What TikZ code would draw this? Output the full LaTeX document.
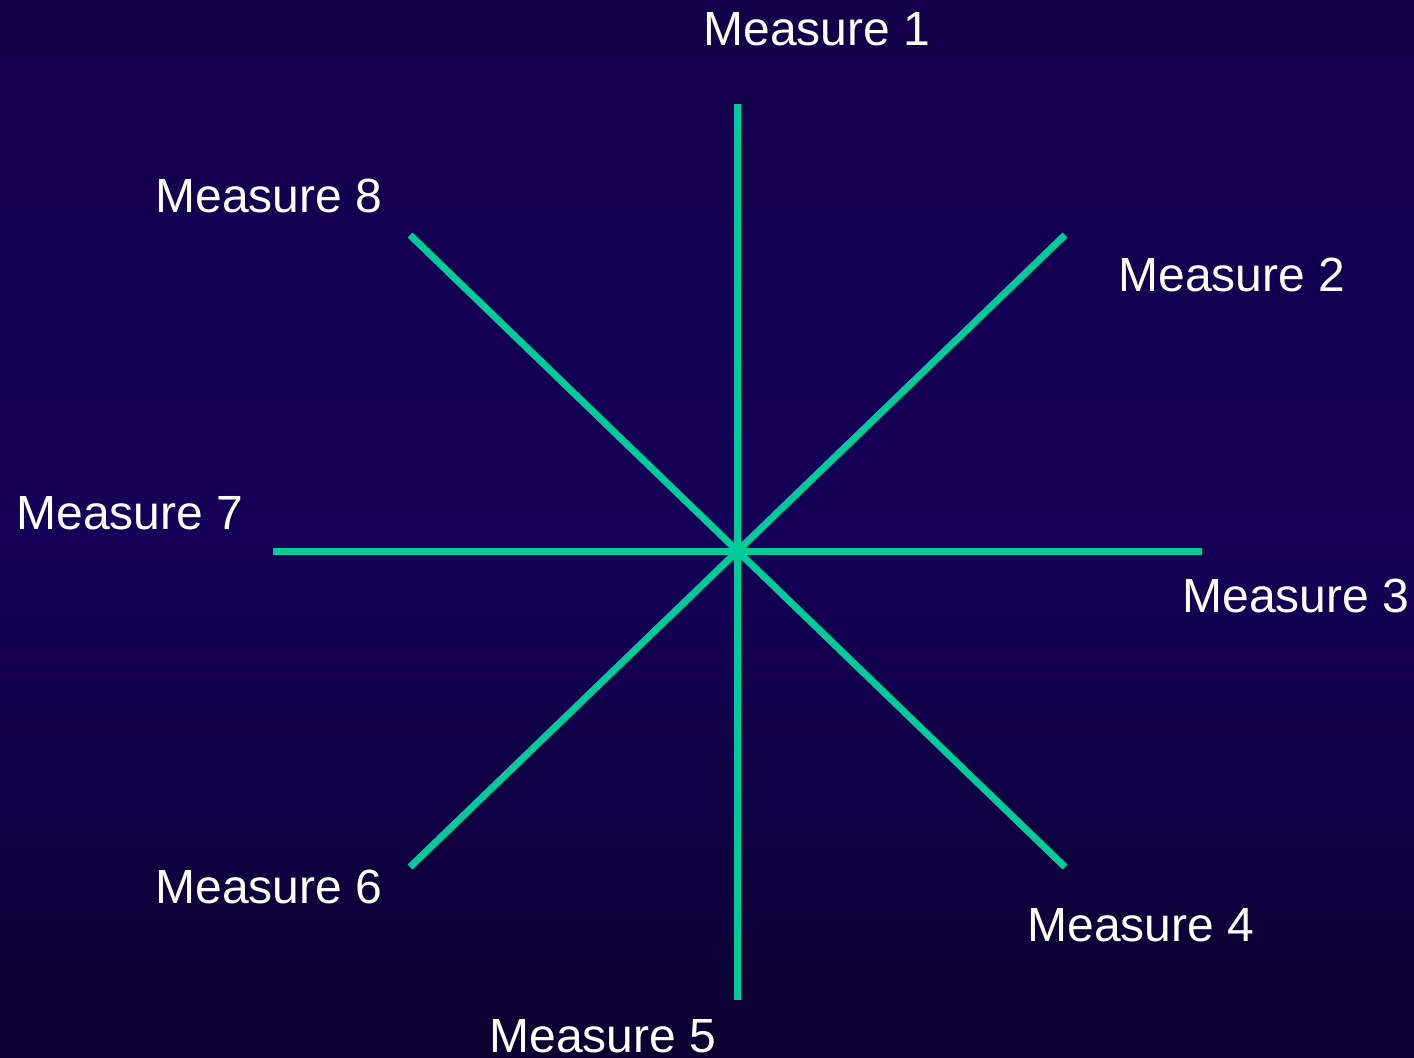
\documentclass[tikz,border=0pt]{standalone}
\usepackage{fontspec}
\setmainfont{Liberation Sans}
\definecolor{bgtop}{HTML}{12004A}
\definecolor{bgmid}{HTML}{140058}
\definecolor{bgbot}{HTML}{0B0030}
\definecolor{spoke}{HTML}{00CC99}
\begin{document}
\begin{tikzpicture}[x=0.5pt,y=-0.5pt,
  spokeline/.style={draw=spoke,line width=3.5pt},
  lbl/.style={text=white,inner sep=0pt,font=\fontsize{24}{28}\selectfont}]
\useasboundingbox (0,0) rectangle (1414,1057);
\shade[top color=bgtop,bottom color=bgmid] (0,0) rectangle (1414,530);
\shade[top color=bgmid,bottom color=bgbot] (0,530) rectangle (1414,1057);
\coordinate (c) at (737,551);
\coordinate (e1) at (737,104);
\coordinate (e2) at (1065,235);
\coordinate (e3) at (1202,551);
\coordinate (e4) at (1065,867);
\coordinate (e5) at (737,1000);
\coordinate (e6) at (410,867);
\coordinate (e7) at (273,551);
\coordinate (e8) at (410,235);
\draw[spokeline] (e1) -- (e5);
\draw[spokeline] (e7) -- (e3);
\draw[spokeline] (e8) -- (e4);
\draw[spokeline] (e2) -- (e6);
\node[lbl,anchor=base west] (m1) at (703,45) {Measure 1};
\node[lbl,anchor=base west] (m2) at (1118,291) {Measure 2};
\node[lbl,anchor=base west] (m3) at (1182,612) {Measure 3};
\node[lbl,anchor=base west] (m4) at (1027,941) {Measure 4};
\node[lbl,anchor=base west] (m5) at (489,1052) {Measure 5};
\node[lbl,anchor=base west] (m6) at (155,903) {Measure 6};
\node[lbl,anchor=base west] (m7) at (16,529) {Measure 7};
\node[lbl,anchor=base west] (m8) at (155,212) {Measure 8};
\end{tikzpicture}
\end{document}
